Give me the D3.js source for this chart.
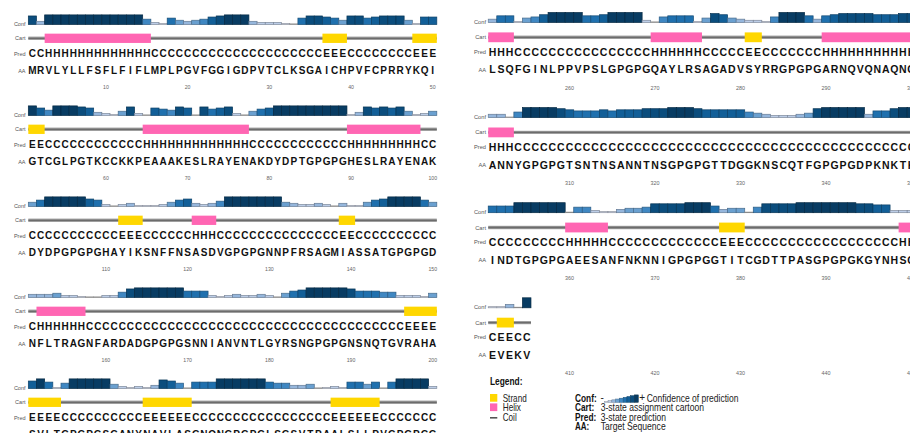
<!DOCTYPE html>
<html>
<head>
<meta charset="utf-8">
<script src="https://cdn.jsdelivr.net/npm/d3@7"></script>
<style>
  html, body { margin: 0; padding: 0; background: #fff; overflow: hidden; }
  svg { display: block; }
</style>
</head>
<body>
<svg id="chart" width="910" height="433"></svg>
<script>
// Target sequence, 50 residues per row (spaces only group by tens)
const sequenceRows = [
  "MRVLYLLFSF LFIFLMPLPG VFGGIGDPVT CLKSGAICHP VFCPRRYKQI",
  "GTCGLPGTKC CKKPEAAAKE SLRAYENAKD YDPTGPGPGH ESLRAYENAK",
  "DYDPGPGPGH AYIKSNFFNS ASDVGPGPGN NPFRSAGMIA SSATGPGPGD",
  "NFLTRAGNFA RDADGPGPGS NNIANVNTLG YRSNGPGPGN SNQTGVRAHA",
  "SVLTGPGPGS GANYNAVLAS GNQNGPGPGL SGSVTPAALS LLPVGPGPGG",
  "LSQFGINLPP VPSLGPGPGQ AYLRSAGADV SYRRGPGPGA RNQVQNAQNG",
  "ANNYGPGPGT SNTNSANNTN SGPGPGTTDG GKNSCQTFGP GPGDPKNKTK",
  "INDTGPGPGA EESANFNKNN IGPGPGGTIT CGDTTPASGP GPGKGYNHSG",
  "EVEKV"
];

// 3-state prediction: H helix, E strand, C coil
const predictionRows = [
  "CCHHHHHHHH HHHHHCCCCC CCCCCCCCCC CCCCCCEEEC CCCCCCCEEE",
  "EECCCCCCCC CCCCHHHHHH HHHHHHHCCC CCCCCCCCCH HHHHHHHHCC",
  "CCCCCCCCCC CEEECCCCCC HHHCCCCCCC CCCCCCCCEE CCCCCCCCCC",
  "CHHHHHHCCC CCCCCCCCCC CCCCCCCCCC CCCCCCCCCC CCCCCCEEEE",
  "EEEECCCCCC CCCCEEEEEE CCCCCCCCCC CCCCCCCEEE EEECCCCCCC",
  "HHHCCCCCCC CCCCCCCCCH HHHHHCCCCC EECCCCCCCH HHHHHHHHHH",
  "HHHCCCCCCC CCCCCCCCCC CCCCCCCCCC CCCCCCCCCC CCCCCCCCCC",
  "CCCCCCCCCH HHHHCCCCCC CCCCCCCEEE CCCCCCCCCC CCCCCCCCHH",
  "CEECC"
];

// Confidence of prediction, 0 (low) to 9 (high)
const confidenceRows = [
  [8,3,9,9,9,9,9,9,9,9, 9,9,9,9,5,2,1,6,4,3, 4,5,7,8,9,9,9,3,2,2, 2,1,0,6,8,8,7,6,4,8, 8,6,7,8,8,8,4,1,7,7],
  [9,7,5,9,9,9,8,7,3,2, 1,4,8,2,0,7,6,5,8,7, 0,8,6,7,8,2,0,4,6,7, 9,9,9,9,9,9,9,9,9,1, 3,8,7,8,7,8,4,1,2,4],
  [4,6,9,9,9,9,9,7,6,2, 0,2,3,1,1,1,2,4,6,7, 3,2,3,5,9,9,9,9,9,9, 9,4,3,2,2,3,2,0,3,1, 1,4,6,7,9,9,9,9,6,4],
  [3,3,3,4,2,2,1,0,0,2, 2,5,8,9,9,9,9,9,9,6, 6,6,2,1,2,3,2,2,3,2, 0,4,6,7,9,9,9,9,9,8, 6,6,6,5,5,2,2,2,1,4],
  [7,9,6,1,5,9,9,9,9,9, 4,2,1,2,1,3,8,7,5,0, 6,6,6,9,9,9,9,9,9,6, 5,5,3,3,4,0,1,2,1,6, 6,4,6,0,6,9,9,9,9,2],
  [3,6,6,1,4,5,7,9,9,9, 9,6,6,7,9,9,9,9,2,0, 5,6,6,6,1,4,8,7,4,3, 2,2,1,5,9,9,9,6,3,6, 7,8,8,8,8,7,7,7,8,8],
  [3,3,0,5,9,9,9,9,8,7, 6,6,6,7,6,7,7,7,8,8, 8,9,9,9,8,7,7,7,7,7, 5,4,3,2,2,2,3,4,8,9, 9,9,9,9,3,6,6,8,9,9],
  [6,6,6,9,9,9,9,9,9,0, 5,5,2,1,1,3,4,4,5,8, 8,8,8,9,9,9,6,3,4,4, 0,5,8,8,8,8,9,9,9,9, 9,9,9,8,8,7,7,2,2,2],
  [1,1,3,0,9]
];

const rowLabels = ["Conf", "Cart", "Pred", "AA"];
const legendStates = ["Strand", "Helix", "Coil"];
const legendKeys = ["Conf:", "Cart:", "Pred:", "AA:"];
const legendTexts = ["Confidence of prediction", "3-state assignment cartoon", "3-state prediction", "Target Sequence"];

const confPalette = ["#d9dfee", "#d3dbed", "#bccde7", "#95b6dc", "#6aa0d0", "#3f87c2", "#1f70ae", "#125f98", "#0b4d7d", "#083c63"];
const stateColor = { H: "#ff66b3", E: "#ffd700" };

const residueFont = "'Liberation Sans', Arial, Helvetica, sans-serif";
const narrowFont = "'Liberation Sans Narrow', 'Arial Narrow', 'Liberation Sans', Arial, sans-serif";

// Two page columns; the right one is drawn slightly larger
const columns = [
  { rows: [0, 1, 2, 3, 4], x0: 32.4, step: 8.17, cart0: 38.3, rowGap: 91,
    confBottom: -13.8, confH: 9.6, cartH: 9.3, predY: 15.3, aaY: 32.2, tickY: 49,
    font: 10, labelFont: 5.5, tickFont: 5.2, labelX: 25.5 },
  { rows: [5, 6, 7, 8], x0: 492.5, step: 8.55, cart0: 37.3, rowGap: 95.1,
    confBottom: -14.8, confH: 10, cartH: 9.8, predY: 14.8, aaY: 32.4, tickY: 50.3,
    font: 10.5, labelFont: 5.7, tickFont: 5.4, labelX: 486 }
];

const svg = d3.select("#chart");
svg.append("rect").attr("width", 910).attr("height", 433).attr("fill", "#fff");

const levelColor = d3.scaleOrdinal().domain(d3.range(10)).range(confPalette);

columns.forEach(col => {
  col.rows.forEach((rowIdx, j) => {
    const start = rowIdx * 50 + 1;
    const aa = sequenceRows[rowIdx].replace(/ /g, "").split("");
    const ss = predictionRows[rowIdx].replace(/ /g, "").split("");
    const cf = confidenceRows[rowIdx];
    const residues = aa.map((a, i) => ({ num: start + i, aa: a, ss: ss[i], conf: cf[i] }));
    const cy = col.cart0 + j * col.rowGap;

    const x = d3.scaleBand()
      .domain(d3.range(start, start + 50))
      .range([col.x0 - col.step / 2, col.x0 - col.step / 2 + 50 * col.step])
      .paddingInner(0);
    const bw = x.bandwidth();
    const h = d3.scaleLinear().domain([0, 9]).range([0, col.confH]);
    const base = cy + col.confBottom;

    const g = svg.append("g");

    // Row labels
    const labelYs = [base + 1.6, cy + 2, cy + col.predY + 2, cy + col.aaY + 2];
    g.selectAll("text.rowlabel").data(rowLabels).join("text")
      .attr("class", "rowlabel")
      .attr("x", col.labelX)
      .attr("y", (d, i) => labelYs[i])
      .attr("text-anchor", "end")
      .attr("font-family", residueFont)
      .attr("font-size", col.labelFont)
      .attr("fill", "#555")
      .text(d => d);

    // Confidence bars
    g.selectAll("rect.conf").data(residues).join("rect")
      .attr("class", "conf")
      .attr("x", d => x(d.num))
      .attr("y", d => base - Math.max(h(d.conf), 0.6))
      .attr("width", bw)
      .attr("height", d => Math.max(h(d.conf), 0.6))
      .attr("fill", d => d.conf === 0 ? "#9a9a9a" : levelColor(d.conf))
      .attr("stroke", d => d.conf === 0 ? "#8a8a8a" : d3.color(levelColor(d.conf)).darker(1.1))
      .attr("stroke-width", 0.7);

    // Cartoon: coil line, then helix / strand blocks
    const x1 = x(start), x2 = x(start + residues.length - 1) + bw;
    g.append("line").attr("x1", x1).attr("x2", x2).attr("y1", cy).attr("y2", cy)
      .attr("stroke", "#b0b0b0").attr("stroke-width", 3.4);
    g.append("line").attr("x1", x1).attr("x2", x2).attr("y1", cy).attr("y2", cy)
      .attr("stroke", "#6c6c6c").attr("stroke-width", 1.8);

    const runs = [];
    residues.forEach(d => {
      const last = runs[runs.length - 1];
      if (last && last.ss === d.ss) last.end = d.num;
      else runs.push({ ss: d.ss, begin: d.num, end: d.num });
    });
    g.selectAll("rect.cart").data(runs.filter(r => r.ss !== "C")).join("rect")
      .attr("class", "cart")
      .attr("x", r => x(r.begin))
      .attr("y", cy - col.cartH / 2)
      .attr("width", r => x(r.end) + bw - x(r.begin))
      .attr("height", col.cartH)
      .attr("fill", r => stateColor[r.ss]);

    // Prediction and sequence letters
    g.selectAll("text.pred").data(residues).join("text")
      .attr("class", "pred")
      .attr("x", d => x(d.num) + bw / 2)
      .attr("y", cy + col.predY + col.font * 0.36)
      .attr("text-anchor", "middle")
      .attr("font-family", residueFont)
      .attr("font-weight", "bold")
      .attr("font-size", col.font)
      .attr("fill", "#111")
      .text(d => d.ss);

    g.selectAll("text.aa").data(residues).join("text")
      .attr("class", "aa")
      .attr("x", d => x(d.num) + bw / 2)
      .attr("y", cy + col.aaY + col.font * 0.36)
      .attr("text-anchor", "middle")
      .attr("font-family", residueFont)
      .attr("font-weight", "bold")
      .attr("font-size", col.font)
      .attr("fill", "#111")
      .text(d => d.aa);

    // Residue numbering every ten positions
    const ticks = x.domain().filter(n => n % 10 === 0);
    g.selectAll("text.tick").data(ticks).join("text")
      .attr("class", "tick")
      .attr("x", n => x(n) + bw / 2)
      .attr("y", cy + col.tickY + col.tickFont * 0.36)
      .attr("text-anchor", "middle")
      .attr("font-family", residueFont)
      .attr("font-size", col.tickFont)
      .attr("fill", "#666")
      .text(n => n);
  });
});

// Legend
const lg = svg.append("g");
lg.append("text").attr("x", 490).attr("y", 385)
  .attr("font-family", residueFont).attr("font-weight", "bold").attr("font-size", 11)
  .attr("textLength", 32.5).attr("lengthAdjust", "spacingAndGlyphs")
  .attr("fill", "#111").text("Legend:");

const rowBase = [401.7, 411.2, 420.7, 430.2];
lg.append("rect").attr("x", 490).attr("y", 394).attr("width", 7.3).attr("height", 7.7).attr("fill", stateColor.E);
lg.append("rect").attr("x", 490).attr("y", 403.4).attr("width", 7.3).attr("height", 7.7).attr("fill", stateColor.H);
lg.append("line").attr("x1", 490).attr("x2", 497.3).attr("y1", 417.8).attr("y2", 417.8)
  .attr("stroke", "#555").attr("stroke-width", 1.6);

const stateWidths = [24, 18.3, 14];
lg.selectAll("text.state").data(legendStates).join("text")
  .attr("class", "state")
  .attr("x", 502.7).attr("y", (d, i) => rowBase[i])
  .attr("font-family", narrowFont).attr("font-size", 10.6).attr("fill", "#222")
  .attr("textLength", (d, i) => stateWidths[i]).attr("lengthAdjust", "spacingAndGlyphs")
  .text(d => d);

const keyWidths = [21.7, 19.3, 21.3, 14.3];
lg.selectAll("text.key").data(legendKeys).join("text")
  .attr("class", "key")
  .attr("x", 575).attr("y", (d, i) => rowBase[i])
  .attr("font-family", narrowFont).attr("font-weight", "bold").attr("font-size", 10.6).attr("fill", "#111")
  .attr("textLength", (d, i) => keyWidths[i]).attr("lengthAdjust", "spacingAndGlyphs")
  .text(d => d);

const descX = [646.7, 600.7, 600.7, 600.7];
const descWidths = [91.7, 103.3, 65.3, 65];
lg.selectAll("text.desc").data(legendTexts).join("text")
  .attr("class", "desc")
  .attr("x", (d, i) => descX[i]).attr("y", (d, i) => rowBase[i])
  .attr("font-family", narrowFont).attr("font-size", 10.6).attr("fill", "#222")
  .attr("textLength", (d, i) => descWidths[i]).attr("lengthAdjust", "spacingAndGlyphs")
  .text(d => d);

// Confidence ramp: low (-) to high (+)
const rampLevels = d3.range(1, 10);
const rx = d3.scaleBand().domain(rampLevels).range([604.3, 638.3]);
const rh = d3.scaleLinear().domain([0, 9]).range([0, 7.4]);
lg.selectAll("rect.ramp").data(rampLevels).join("rect")
  .attr("class", "ramp")
  .attr("x", d => rx(d)).attr("y", d => 402.3 - rh(d))
  .attr("width", rx.bandwidth()).attr("height", d => rh(d))
  .attr("fill", d => levelColor(d))
  .attr("stroke", d => d3.color(levelColor(d)).darker(1.1)).attr("stroke-width", 0.5);
lg.append("text").attr("x", 600.5).attr("y", 401).attr("font-family", narrowFont)
  .attr("font-size", 10).attr("fill", "#222").text("-");
lg.append("text").attr("x", 639.3).attr("y", 401.2).attr("font-family", narrowFont)
  .attr("font-size", 10).attr("fill", "#222").text("+");
</script>
</body>
</html>
